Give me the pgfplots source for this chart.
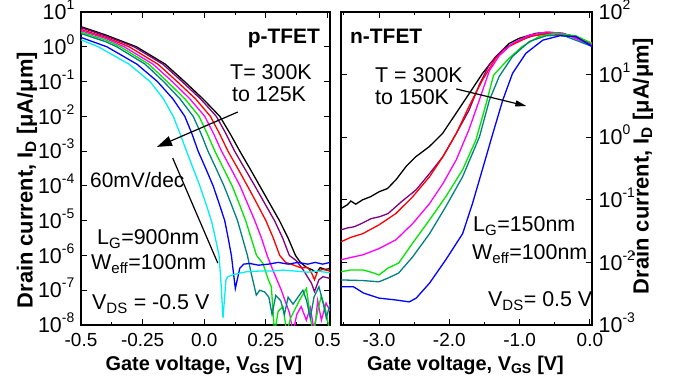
\documentclass[border=0pt]{standalone}
\usepackage{fontspec}
\setmainfont{Liberation Sans}
\usepackage{pgfplots}
\pgfplotsset{compat=1.18}
\usetikzlibrary{arrows.meta}

\definecolor{cPurple}{RGB}{128,0,128}
\definecolor{cRed}{RGB}{255,0,0}
\definecolor{cMag}{RGB}{255,0,255}
\definecolor{cGreen}{RGB}{0,230,0}
\definecolor{cTeal}{RGB}{0,128,128}
\definecolor{cBlue}{RGB}{0,0,255}
\definecolor{cCyan}{RGB}{0,240,240}

\newcommand{\tenlabel}{10\raisebox{10bp}{\fontsize{14}{14}\selectfont\pgfmathparse{int(round(\tick))}\pgfmathresult}}

\begin{document}
\begin{tikzpicture}
\useasboundingbox (0,0) rectangle (679bp,383bp);

% ---------------- p-TFET ----------------
\begin{axis}[scale only axis, height=313bp, ymode=log, log basis y=10,
  tick align=inside, major tick length=6bp, minor tick length=3.5bp,
  tick style={black, line width=0.9bp},
  axis line style={line width=1.5bp},
  xticklabel style={font=\fontsize{19}{22}\selectfont, inner sep=0pt, yshift=-8.5bp},
  yticklabel style={font=\fontsize{21.5}{24}\selectfont, inner sep=0pt, anchor=base east, xshift=-6.5bp, yshift=-7.7bp},
  yticklabel={\tenlabel},
  every axis plot/.append style={line width=1.3bp, mark=none},
  at={(81bp,58bp)}, anchor=south west, width=249bp,
  xmin=-0.5, xmax=0.51, ymin=1e-8, ymax=10,
  xtick={-0.5,-0.25,0,0.25,0.5}, xticklabels={-0.5,-0.25,0.0,0.25,0.5},
  minor xtick={-0.375,-0.125,0.125,0.375},
  ytickten={-8,...,1},
  xlabel={Gate voltage, V\textsubscript{GS} [V]},
  ylabel={Drain current, I\textsubscript{D} [μA/μm]},
  xlabel style={font=\fontsize{20}{24}\selectfont\bfseries, at={(axis description cs:0.494,-0.144)}, anchor=base},
  ylabel style={font=\fontsize{22}{26}\selectfont\bfseries, at={(axis description cs:-0.217,0.463)}, anchor=center},
]
% 300K black
\addplot[black] coordinates {(-0.5,3.80) (-0.4,2.19) (-0.275,1) (-0.158,0.316) (-0.08,0.1) (-0.005,0.0316) (0.063,0.01) (0.105,3.16e-3) (0.144,1e-3) (0.185,3.16e-4) (0.225,1e-4) (0.265,3.16e-5) (0.305,1e-5) (0.34,3.16e-6) (0.37,1e-6) (0.39,6.31e-7) (0.414,4.57e-7) (0.44,3.80e-7) (0.455,3.16e-7) (0.47,4.47e-7) (0.49,3.98e-7) (0.51,4.17e-7)};
% purple
\addplot[cPurple] coordinates {(-0.5,3.55) (-0.4,2.04) (-0.285,1) (-0.168,0.316) (-0.09,0.1) (-0.015,0.0316) (0.049,0.01) (0.088,3.16e-3) (0.123,1e-3) (0.164,3.16e-4) (0.205,1e-4) (0.245,3.16e-5) (0.285,1e-5) (0.318,3.16e-6) (0.345,1e-6) (0.373,7.08e-7) (0.40,3.98e-7) (0.414,2.75e-7) (0.435,1.58e-7) (0.447,9.12e-8) (0.465,2.0e-7) (0.481,2.45e-7) (0.51,2.19e-7)};
% red
\addplot[cRed] coordinates {(-0.5,3.16) (-0.4,1.86) (-0.305,1) (-0.188,0.316) (-0.11,0.1) (-0.035,0.0316) (0.025,0.01) (0.062,3.16e-3) (0.096,1e-3) (0.136,3.16e-4) (0.175,1e-4) (0.213,3.16e-5) (0.25,1e-5) (0.28,3.16e-6) (0.306,1e-6) (0.33,6.31e-7) (0.36,5.37e-7) (0.39,4.47e-7) (0.42,4.47e-7) (0.435,3.16e-7) (0.447,2.0e-7) (0.46,3.55e-7) (0.48,3.98e-7) (0.51,3.55e-7)};
% magenta
\addplot[cMag] coordinates {(-0.5,2.88) (-0.4,1.74) (-0.325,1) (-0.208,0.316) (-0.13,0.1) (-0.058,0.0316) (0.002,0.01) (0.038,3.16e-3) (0.070,1e-3) (0.108,3.16e-4) (0.145,1e-4) (0.175,3.16e-5) (0.205,1e-5) (0.232,3.16e-6) (0.255,1e-6) (0.28,3.55e-7) (0.312,1.02e-7) (0.346,2.19e-8) (0.36,6e-9) (0.375,2.0e-8) (0.393,3.39e-8) (0.414,1.38e-8) (0.43,3.16e-8) (0.447,6e-9) (0.46,5.01e-8) (0.475,1.38e-8) (0.494,4.27e-8) (0.51,2.51e-8)};
% green
\addplot[cGreen] coordinates {(-0.5,2.63) (-0.4,1.57) (-0.34,1) (-0.225,0.316) (-0.15,0.1) (-0.078,0.0316) (-0.021,0.01) (0.012,3.16e-3) (0.043,1e-3) (0.078,3.16e-4) (0.113,1e-4) (0.141,3.16e-5) (0.168,1e-5) (0.19,3.16e-6) (0.212,1e-6) (0.238,5.89e-7) (0.26,2.0e-7) (0.272,1.26e-7) (0.285,6e-9) (0.30,2.51e-8) (0.319,3.39e-8) (0.335,6e-9) (0.35,1.58e-8) (0.387,5.25e-8) (0.414,1.12e-7) (0.44,6e-9) (0.474,6.61e-8) (0.49,3.16e-8) (0.51,6e-9)};
% teal
\addplot[cTeal] coordinates {(-0.5,2.40) (-0.4,1.40) (-0.355,1) (-0.24,0.316) (-0.165,0.1) (-0.098,0.0316) (-0.045,0.01) (-0.013,3.16e-3) (0.015,1e-3) (0.048,3.16e-4) (0.08,1e-4) (0.108,3.16e-5) (0.135,1e-5) (0.155,3.16e-6) (0.175,1e-6) (0.19,3.16e-7) (0.211,7.24e-8) (0.225,1e-7) (0.245,8.91e-8) (0.262,6.31e-8) (0.275,2.0e-8) (0.29,7.08e-8) (0.31,5.01e-8) (0.325,2.0e-8) (0.34,6.31e-8) (0.36,3.98e-8) (0.38,6.31e-8) (0.40,1e-7) (0.415,5.01e-8) (0.43,1.58e-8) (0.445,6.31e-8) (0.465,1.26e-7) (0.48,5.01e-8) (0.495,1.58e-8) (0.51,3.98e-8)};
% blue
\addplot[cBlue] coordinates {(-0.5,1.86) (-0.45,1.38) (-0.395,1) (-0.273,0.316) (-0.19,0.1) (-0.127,0.0316) (-0.079,0.01) (-0.05,3.16e-3) (-0.025,1e-3) (0.006,3.16e-4) (0.036,1e-4) (0.06,3.16e-5) (0.083,1e-5) (0.097,3.16e-6) (0.11,1e-6) (0.126,1.12e-7) (0.144,4.27e-7) (0.16,5.62e-7) (0.184,5.89e-7) (0.22,5.25e-7) (0.26,5.62e-7) (0.30,6.31e-7) (0.34,5.62e-7) (0.38,6.31e-7) (0.42,5.62e-7) (0.45,6.31e-7) (0.48,5.62e-7) (0.51,6.31e-7)};
% cyan 125K
\addplot[cCyan] coordinates {(-0.5,1.58) (-0.45,1.15) (-0.43,1) (-0.305,0.316) (-0.22,0.1) (-0.165,0.0316) (-0.126,0.01) (-0.098,3.16e-3) (-0.072,1e-3) (-0.045,3.16e-4) (-0.018,1e-4) (0.006,3.16e-5) (0.029,1e-5) (0.045,3.16e-6) (0.06,1e-6) (0.068,1.58e-7) (0.076,1.58e-8) (0.088,2.0e-7) (0.096,2.45e-7) (0.12,2.82e-7) (0.15,3.16e-7) (0.171,3.39e-7) (0.22,3.55e-7) (0.27,3.55e-7) (0.319,3.80e-7) (0.37,3.55e-7) (0.42,3.31e-7) (0.46,3.55e-7) (0.51,3.16e-7)};
% 60 mV/dec reference line
\addplot[black, line width=1.2bp] coordinates {(-0.128,6.3e-4) (0.055,6.0e-7)};
\draw[-{Triangle[length=15bp,width=10bp]}, line width=1.2bp] (axis cs:0.136,0.0133) -- (axis cs:-0.192,1.32e-3);
\end{axis}

% ---------------- n-TFET ----------------
\begin{axis}[scale only axis, height=313bp, ymode=log, log basis y=10,
  tick align=inside, major tick length=6bp, minor tick length=3.5bp,
  tick style={black, line width=0.9bp},
  axis line style={line width=1.5bp},
  xticklabel style={font=\fontsize{19}{22}\selectfont, inner sep=0pt, yshift=-8.5bp},
  yticklabel style={font=\fontsize{21.5}{24}\selectfont, inner sep=0pt, anchor=base west, xshift=6.5bp, yshift=-7.7bp},
  yticklabel={\tenlabel},
  every axis plot/.append style={line width=1.3bp, mark=none},
  at={(341bp,58bp)}, anchor=south west, width=251bp,
  xmin=-3.54, xmax=0.03, ymin=1e-3, ymax=100,
  xtick={-3,-2,-1,0}, xticklabels={-3.0,-2.0,-1.0,0.0},
  minor xtick={-3.5,-2.5,-1.5,-0.5},
  ytickten={-3,...,2},
  yticklabel pos=right,
  xlabel={Gate voltage, V\textsubscript{GS} [V]},
  ylabel={Drain current, I\textsubscript{D} [μA/μm]},
  xlabel style={font=\fontsize{20}{24}\selectfont\bfseries, at={(axis description cs:0.496,-0.144)}, anchor=base},
  ylabel style={font=\fontsize{22}{26}\selectfont\bfseries, at={(axis description cs:1.203,0.508)}, anchor=center, rotate=0},
]
\addplot[black] coordinates {(-3.54,0.0724) (-3.45,0.0832) (-3.40,0.0955) (-3.33,0.0851) (-3.233,0.1) (-3.12,0.112) (-2.995,0.135) (-2.88,0.151) (-2.758,0.209) (-2.616,0.339) (-2.474,0.49) (-2.284,0.708) (-2.095,1.15) (-1.905,2.40) (-1.715,5.01) (-1.526,10.5) (-1.336,19.5) (-1.146,31.6) (-1.004,38.0) (-0.767,45.7) (-0.578,47.3) (-0.388,45.7) (-0.151,38.0) (0.03,29.5)};
\addplot[cPurple] coordinates {(-3.54,0.0331) (-3.45,0.0355) (-3.35,0.0372) (-3.25,0.0417) (-3.11,0.0501) (-2.99,0.0537) (-2.87,0.0603) (-2.68,0.0933) (-2.47,0.145) (-2.28,0.263) (-2.09,0.49) (-1.90,1.15) (-1.72,2.69) (-1.57,7.0) (-1.43,14.5) (-1.24,25.0) (-1.05,33.5) (-0.81,41.7) (-0.58,45.7) (-0.29,42.7) (0.03,29.5)};
\addplot[cRed] coordinates {(-3.54,0.0214) (-3.40,0.0251) (-3.23,0.0288) (-3.0,0.0398) (-2.76,0.0603) (-2.52,0.112) (-2.28,0.234) (-2.09,0.49) (-1.90,1.15) (-1.72,3.09) (-1.53,8.13) (-1.34,18.2) (-1.15,28.2) (-0.86,40.7) (-0.58,45.7) (-0.29,42.7) (0.03,31.6)};
\addplot[cMag] coordinates {(-3.54,0.011) (-3.40,0.012) (-3.23,0.0132) (-3.0,0.0166) (-2.76,0.0229) (-2.52,0.0417) (-2.28,0.0871) (-2.09,0.182) (-1.90,0.437) (-1.72,1.32) (-1.57,4.0) (-1.43,11.5) (-1.29,20.0) (-1.10,31.6) (-0.86,42.7) (-0.62,47.9) (-0.39,45.7) (0.03,29.5)};
\addplot[cGreen] coordinates {(-3.54,7.08e-3) (-3.40,7.59e-3) (-3.23,7.59e-3) (-3.10,6.92e-3) (-3.0,6.31e-3) (-2.87,8.13e-3) (-2.72,9.77e-3) (-2.52,0.0204) (-2.28,0.0479) (-2.05,0.112) (-1.81,0.302) (-1.62,0.912) (-1.48,3.3) (-1.37,9.8) (-1.15,18.2) (-0.96,28.2) (-0.72,40.7) (-0.49,45.7) (-0.20,41.7) (0.03,31.6)};
\addplot[cTeal] coordinates {(-3.54,5.25e-3) (-3.23,5.13e-3) (-3.0,4.90e-3) (-2.87,5.62e-3) (-2.72,6.76e-3) (-2.52,0.0123) (-2.28,0.0288) (-2.05,0.0776) (-1.81,0.234) (-1.57,1.02) (-1.43,3.89) (-1.29,9.33) (-1.10,19.5) (-0.86,33.9) (-0.62,41.7) (-0.39,42.7) (0.03,28.2)};
\addplot[cBlue] coordinates {(-3.54,4.07e-3) (-3.36,4.07e-3) (-3.22,3.24e-3) (-3.0,2.69e-3) (-2.76,2.51e-3) (-2.57,2.34e-3) (-2.47,2.69e-3) (-2.28,4.68e-3) (-2.05,0.011) (-1.81,0.0288) (-1.67,0.0871) (-1.53,0.302) (-1.38,1.15) (-1.24,3.89) (-1.10,10.5) (-0.91,21.9) (-0.67,35.5) (-0.43,41.7) (-0.20,40.7) (0.03,28.2)};
\draw[-{Triangle[length=11bp,width=6bp]}, line width=1.2bp] (axis cs:-1.90,5.9) -- (axis cs:-0.904,3.15);
\end{axis}

% annotations
\begin{scope}[every node/.style={font=\fontsize{21.5}{25}\selectfont, inner sep=0pt}]
\node[anchor=base east, font=\fontsize{21}{25}\selectfont\bfseries] at (320bp,339bp) {p-TFET};
\node[anchor=base west] at (230bp,303bp) {T= 300K};
\node[anchor=base west] at (232bp,281bp) {to 125K};
\node[anchor=base west, font=\fontsize{21}{25}\selectfont] at (90bp,195bp) {60mV/dec};
\node[anchor=base west] at (97bp,138bp) {L\textsubscript{G}=900nm};
\node[anchor=base west] at (91bp,113bp) {W\textsubscript{eff}=100nm};
\node[anchor=base west] at (92bp,73bp) {V\textsubscript{DS} = -0.5 V};
\node[anchor=base west, font=\fontsize{21}{25}\selectfont\bfseries] at (350bp,339bp) {n-TFET};
\node[anchor=base west] at (375bp,300bp) {T = 300K};
\node[anchor=base west] at (375bp,278bp) {to 150K};
\node[anchor=base west] at (473bp,151bp) {L\textsubscript{G}=150nm};
\node[anchor=base west] at (472bp,123bp) {W\textsubscript{eff}=100nm};
\node[anchor=base west] at (488bp,76bp) {V\textsubscript{DS}= 0.5 V};
\end{scope}
\end{tikzpicture}
\end{document}
